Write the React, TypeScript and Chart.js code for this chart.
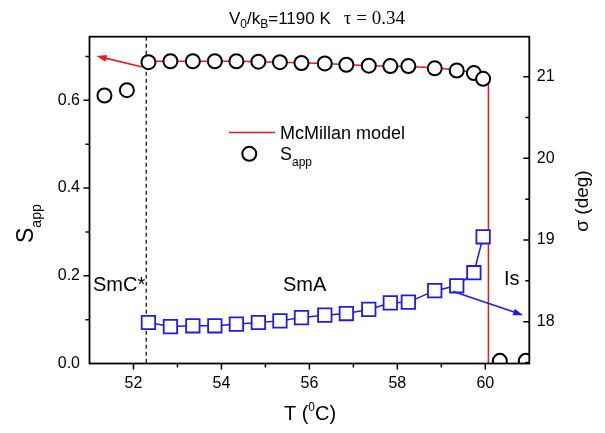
import React, { useEffect, useRef } from 'react';
import { Chart, registerables } from 'chart.js';

Chart.register(...registerables);

// Apparent order parameter S_app and tilt angle sigma versus temperature
const tempC = [52.34, 52.84, 53.35, 53.85, 54.34, 54.84, 55.33, 55.82, 56.35, 56.84, 57.35, 57.84, 58.25, 58.85, 59.35, 59.74, 59.95];
const sApp = [0.687, 0.689, 0.689, 0.689, 0.689, 0.688, 0.687, 0.685, 0.684, 0.681, 0.679, 0.678, 0.678, 0.673, 0.668, 0.662, 0.649];
const sigmaDeg = [17.99, 17.94, 17.95, 17.95, 17.97, 17.99, 18.01, 18.05, 18.08, 18.1, 18.15, 18.23, 18.24, 18.38, 18.44, 18.6, 19.04];

// S_app in the SmC* phase (below the dashed transition) and in the isotropic phase
const smcTemp = [51.34, 51.85];
const smcS = [0.611, 0.623];
const isoTemp = [60.33, 60.92];
const isoS = [0.006, 0.006];

// McMillan model curve
const modelTemp = [52.34, 53.35, 54.34, 55.33, 56.35, 57.35, 58.25, 58.85, 59.35, 59.74, 59.95, 60.07, 60.07];
const modelS = [0.689, 0.689, 0.689, 0.687, 0.684, 0.679, 0.677, 0.674, 0.669, 0.663, 0.652, 0.647, 0];

const xTicks = [52, 54, 56, 58, 60];
const sTicks = [0, 0.2, 0.4, 0.6];
const sigmaTicks = [18, 19, 20, 21];

const FONT = 'Arial, "Liberation Sans", Helvetica, sans-serif';
const SERIF = '"Liberation Serif", "Times New Roman", serif';
const RED = '#f01818';
const BLUE = '#1c1cf0';

type Run = { text: string; font: string; dy?: number };

function runsWidth(ctx: CanvasRenderingContext2D, runs: Run[]) {
  let w = 0;
  for (const r of runs) {
    ctx.font = r.font;
    w += ctx.measureText(r.text).width;
  }
  return w;
}

function drawRuns(ctx: CanvasRenderingContext2D, runs: Run[], x: number, y: number) {
  let cx = x;
  for (const r of runs) {
    ctx.font = r.font;
    ctx.fillText(r.text, cx, y + (r.dy || 0));
    cx += ctx.measureText(r.text).width;
  }
  return cx;
}

function arrow(ctx: CanvasRenderingContext2D, x1: number, y1: number, x2: number, y2: number, color: string) {
  const a = Math.atan2(y2 - y1, x2 - x1);
  const head = 10;
  const half = 3.5;
  ctx.save();
  ctx.strokeStyle = color;
  ctx.fillStyle = color;
  ctx.lineWidth = 1.6;
  ctx.beginPath();
  ctx.moveTo(x1, y1);
  ctx.lineTo(x2 - Math.cos(a) * head * 0.8, y2 - Math.sin(a) * head * 0.8);
  ctx.stroke();
  ctx.beginPath();
  ctx.moveTo(x2, y2);
  ctx.lineTo(x2 - Math.cos(a) * head - Math.sin(a) * half, y2 - Math.sin(a) * head + Math.cos(a) * half);
  ctx.lineTo(x2 - Math.cos(a) * head + Math.sin(a) * half, y2 - Math.sin(a) * head - Math.cos(a) * half);
  ctx.closePath();
  ctx.fill();
  ctx.restore();
}

const decorations = {
  id: 'decorations',
  beforeDatasetsDraw(chart: any) {
    const { ctx, chartArea, scales } = chart;
    // SmC* / SmA transition
    const xd = scales.x.getPixelForValue(52.29);
    ctx.save();
    ctx.strokeStyle = '#000';
    ctx.lineWidth = 1.2;
    ctx.setLineDash([4, 3]);
    ctx.beginPath();
    ctx.moveTo(xd, chartArea.top);
    ctx.lineTo(xd, chartArea.bottom);
    ctx.stroke();
    ctx.restore();
  },
  afterDraw(chart: any) {
    const { ctx, chartArea, scales } = chart;
    const { left, right, top, bottom } = chartArea;
    const sx = scales.x, sy = scales.y, s2 = scales.y2;
    ctx.save();

    // frame
    ctx.strokeStyle = '#000';
    ctx.lineWidth = 1.8;
    ctx.strokeRect(left, top, right - left, bottom - top);

    // tick marks
    ctx.lineWidth = 1.5;
    ctx.beginPath();
    for (let v = 52; v <= 60; v++) {
      const p = sx.getPixelForValue(v);
      const len = v % 2 === 0 ? 6 : 4;
      ctx.moveTo(p, bottom);
      ctx.lineTo(p, bottom + len);
    }
    for (let i = 1; i <= 7; i++) {
      const p = sy.getPixelForValue(i / 10);
      const len = i % 2 === 0 ? 6 : 4;
      ctx.moveTo(left, p);
      ctx.lineTo(left - len, p);
    }
    for (let i = 0; i <= 7; i++) {
      const v = 17.5 + i * 0.5;
      const p = s2.getPixelForValue(v);
      const len = Number.isInteger(v) ? 6 : 4;
      ctx.moveTo(right, p);
      ctx.lineTo(right - len, p);
    }
    ctx.stroke();

    // arrows pointing to the relevant axes
    arrow(ctx, sx.getPixelForValue(52.2), sy.getPixelForValue(0.676), sx.getPixelForValue(51.16), sy.getPixelForValue(0.701), RED);
    arrow(ctx, sx.getPixelForValue(59.27), s2.getPixelForValue(18.37), sx.getPixelForValue(60.86), s2.getPixelForValue(18.08), BLUE);

    ctx.fillStyle = '#000';
    ctx.textBaseline = 'alphabetic';
    ctx.textAlign = 'left';

    // phase labels
    ctx.font = `20px ${FONT}`;
    ctx.fillText('SmC*', 93, 291);
    ctx.fillText('SmA', 283, 291);
    ctx.fillText('Is', 504, 285);

    // legend
    ctx.strokeStyle = RED;
    ctx.lineWidth = 1.5;
    ctx.beginPath();
    ctx.moveTo(229, 132.5);
    ctx.lineTo(275, 132.5);
    ctx.stroke();
    ctx.font = `18px ${FONT}`;
    ctx.fillText('McMillan model', 280, 139);
    ctx.strokeStyle = '#000';
    ctx.lineWidth = 2;
    ctx.beginPath();
    ctx.arc(249.3, 153.8, 7, 0, Math.PI * 2);
    ctx.stroke();
    drawRuns(ctx, [
      { text: 'S', font: `18px ${FONT}` },
      { text: 'app', font: `12px ${FONT}`, dy: 6 },
    ], 280, 159.5);

    // title
    const titleEnd = drawRuns(ctx, [
      { text: 'V', font: `17px ${FONT}` },
      { text: '0', font: `12px ${FONT}`, dy: 4.5 },
      { text: '/k', font: `17px ${FONT}` },
      { text: 'B', font: `12px ${FONT}`, dy: 4.5 },
      { text: '=1190 K', font: `17px ${FONT}` },
    ], 229, 23.5);
    ctx.font = `19px ${SERIF}`;
    ctx.fillText('\u03c4 = 0.34', titleEnd + 13, 23.5);

    // x axis title
    const xRuns: Run[] = [
      { text: 'T (', font: `20px ${FONT}` },
      { text: '0', font: `12px ${FONT}`, dy: -9 },
      { text: 'C)', font: `20px ${FONT}` },
    ];
    const xw = runsWidth(ctx, xRuns);
    drawRuns(ctx, xRuns, 310 - xw / 2, 420);

    // left y title
    ctx.save();
    ctx.translate(33.3, 243);
    ctx.rotate(-Math.PI / 2);
    drawRuns(ctx, [
      { text: 'S', font: `23px ${FONT}` },
      { text: 'app', font: `14px ${FONT}`, dy: 8 },
    ], 0, 0);
    ctx.restore();

    // right y title
    ctx.save();
    ctx.translate(588, 231.7);
    ctx.rotate(-Math.PI / 2);
    ctx.font = `19px ${FONT}`;
    ctx.fillText('\u03c3 (deg)', 0, 0);
    ctx.restore();

    ctx.restore();
  },
};

export default function App() {
  const ref = useRef<HTMLCanvasElement>(null);

  useEffect(() => {
    const canvas = ref.current;
    if (!canvas) return;

    const circlePts = [
      ...smcTemp.map((t, i) => ({ x: t, y: smcS[i] })),
      ...tempC.map((t, i) => ({ x: t, y: sApp[i] })),
      ...isoTemp.map((t, i) => ({ x: t, y: isoS[i] })),
    ];
    const sigmaPts = tempC.map((t, i) => ({ x: t, y: sigmaDeg[i] }));
    const modelPts = modelTemp.map((t, i) => ({ x: t, y: modelS[i] }));

    const tickFont = { family: FONT, size: 16 };

    const chart = new Chart(canvas, {
      type: 'line',
      data: {
        datasets: [
          {
            label: 'S_app',
            data: circlePts,
            yAxisID: 'y',
            showLine: false,
            pointStyle: 'circle',
            pointRadius: 7,
            pointBorderWidth: 2,
            pointBorderColor: '#000',
            pointBackgroundColor: '#fff',
            clip: 0,
            order: 0,
          },
          {
            label: 'sigma',
            data: sigmaPts,
            yAxisID: 'y2',
            borderColor: BLUE,
            borderWidth: 1.5,
            tension: 0,
            pointStyle: 'rect',
            pointRadius: 9.5,
            pointBorderWidth: 1.8,
            pointBorderColor: BLUE,
            pointBackgroundColor: '#fff',
            order: 1,
          },
          {
            label: 'McMillan model',
            data: modelPts,
            yAxisID: 'y',
            borderColor: RED,
            borderWidth: 1.5,
            pointRadius: 0,
            tension: 0,
            order: 2,
          },
        ],
      } as any,
      options: {
        responsive: false,
        animation: false,
        devicePixelRatio: 1,
        layout: { padding: { top: 36.7, left: 0, right: 0, bottom: 0 }, autoPadding: false },
        plugins: {
          legend: { display: false },
          tooltip: { enabled: false },
          title: { display: false },
        },
        scales: {
          x: {
            type: 'linear',
            position: 'bottom',
            min: 51,
            max: 61,
            grid: { display: false, drawTicks: false },
            border: { display: false },
            ticks: { font: tickFont, color: '#000', padding: 10, maxRotation: 0, callback: (v: any) => String(v) },
            afterBuildTicks: (axis: any) => { axis.ticks = xTicks.map((value) => ({ value })); },
            afterFit: (axis: any) => { axis.height = 433 - 363.5; },
          },
          y: {
            type: 'linear',
            position: 'left',
            min: 0,
            max: 0.745,
            grid: { display: false, drawTicks: false },
            border: { display: false },
            ticks: { font: tickFont, color: '#000', padding: 9.5, callback: (v: any) => Number(v).toFixed(1) },
            afterBuildTicks: (axis: any) => { axis.ticks = sTicks.map((value) => ({ value })); },
            afterFit: (axis: any) => { axis.width = 89.5; },
          },
          y2: {
            type: 'linear',
            position: 'right',
            min: 17.488,
            max: 21.49,
            grid: { display: false, drawTicks: false },
            border: { display: false },
            ticks: { font: tickFont, color: '#000', padding: 7.5, callback: (v: any) => String(v) },
            afterBuildTicks: (axis: any) => { axis.ticks = sigmaTicks.map((value) => ({ value })); },
            afterFit: (axis: any) => { axis.width = 605 - 529.3; },
          },
        },
      } as any,
      plugins: [decorations],
    });

    return () => chart.destroy();
  }, []);

  return (
    <div style={{ position: 'absolute', left: 0, top: 0, width: 605, height: 433, background: '#fff' }}>
      <canvas ref={ref} width={605} height={433} />
    </div>
  );
}
